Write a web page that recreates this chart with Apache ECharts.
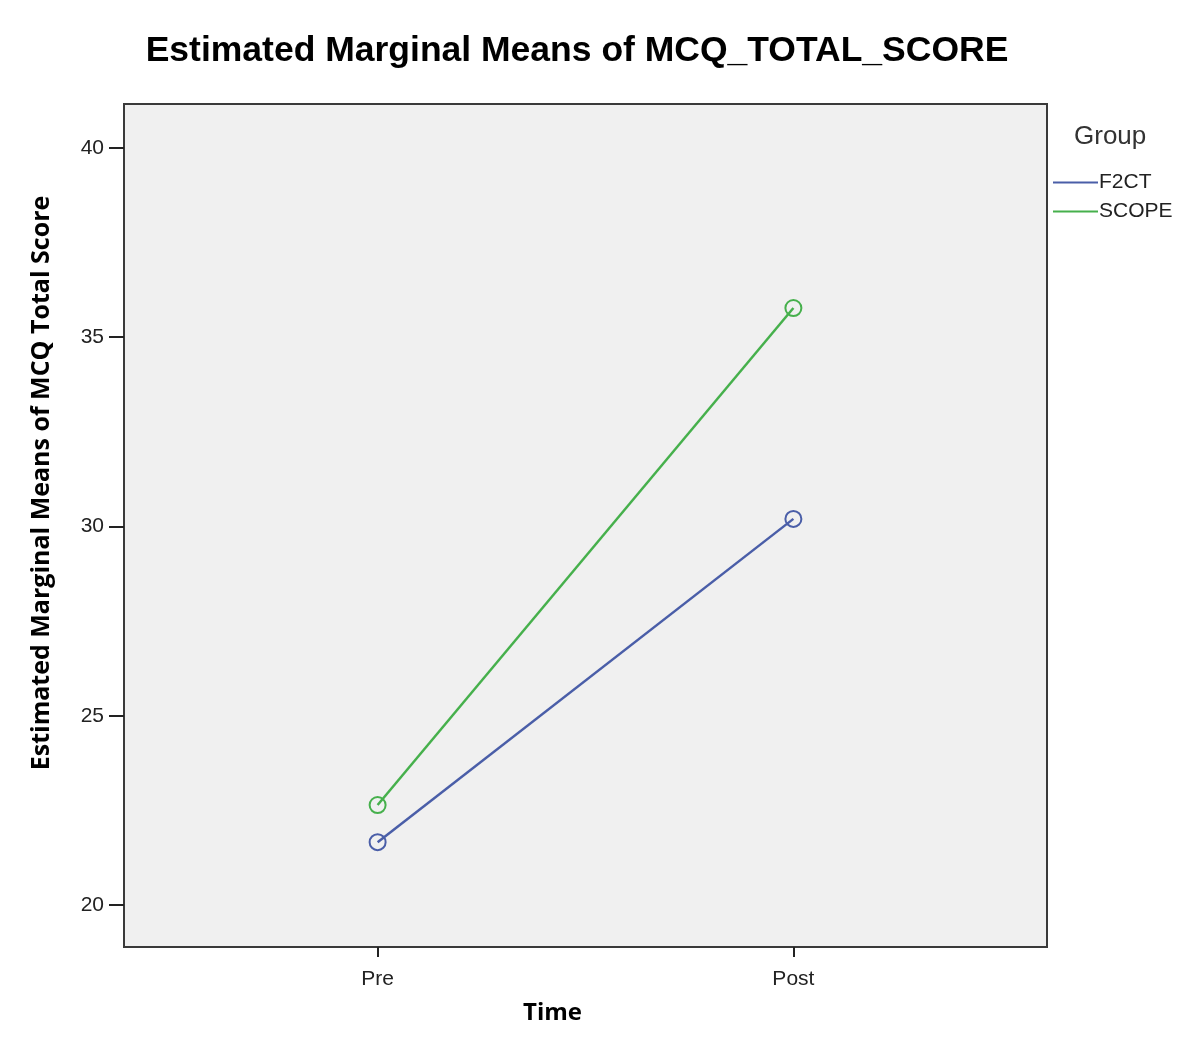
<!DOCTYPE html>
<html>
<head>
<meta charset="utf-8">
<script src="https://cdn.jsdelivr.net/npm/echarts@6/dist/echarts.min.js"></script>
<style>
  html, body { margin: 0; padding: 0; background: #fff; }
  #main { width: 1200px; height: 1051px; }
</style>
</head>
<body>
<div id="main"></div>
<script>
// data
const timePoints = ['Pre', 'Post'];
const groups = ['F2CT', 'SCOPE'];
const f2ctMeans = [21.66, 30.20];
const scopeMeans = [22.64, 35.77];
const yTicks = [20, 25, 30, 35, 40];

const colors = ['#4a5ea8', '#46b04c'];

const myChart = echarts.init(document.getElementById('main'));

// x axis is numeric (1 = Pre, 2 = Post) so the points sit where SPSS puts them
const toPoints = vals => vals.map((v, i) => [i + 1, v]);

const makeSeries = (name, vals, color) => ({
  name: name,
  type: 'line',
  data: toPoints(vals),
  symbol: 'circle',
  symbolSize: 16,
  color: color,
  lineStyle: { width: 2.5, color: color },
  itemStyle: { color: 'rgba(0,0,0,0)', borderColor: color, borderWidth: 2 }
});

const option = {
  backgroundColor: '#fff',
  animation: false,
  title: {
    text: 'Estimated Marginal Means of MCQ_TOTAL_SCORE',
    left: 572,
    top: 28,
    textAlign: 'center',
    textStyle: { fontFamily: 'Liberation Sans', fontWeight: 'bold', fontSize: 35.5, color: '#000' }
  },
  legend: {
    orient: 'vertical',
    left: 1048,
    top: 167,
    itemGap: 8,
    itemWidth: 45,
    itemHeight: 2,
    icon: 'rect',
    data: groups.map((g, i) => ({ name: g, itemStyle: { color: colors[i], borderWidth: 0 } })),
    textStyle: { fontFamily: 'Liberation Sans', fontSize: 21, color: '#222', padding: [0, 0, 0, -4] }
  },
  grid: {
    left: 124, top: 104, right: 153, bottom: 104,
    show: true,
    backgroundColor: '#f0f0f0',
    borderColor: '#3a3a3a',
    borderWidth: 2
  },
  xAxis: {
    type: 'value',
    min: 0.39,
    max: 2.61,
    splitLine: { show: false },
    axisLine: { show: true, lineStyle: { color: '#3a3a3a', width: 2 } },
    axisTick: { show: true, length: 10, customValues: [1, 2], lineStyle: { color: '#222', width: 2 } },
    axisLabel: {
      customValues: [1, 2],
      formatter: v => timePoints[Math.round(v) - 1],
      fontFamily: 'Liberation Sans', fontSize: 21, color: '#222', margin: 22
    },
    name: 'Time',
    nameLocation: 'middle',
    nameGap: 54,
    nameTextStyle: { fontFamily: 'Open Sans', fontWeight: 'bold', fontSize: 24, color: '#000', padding: [0, 66, 0, 0] }
  },
  yAxis: {
    type: 'value',
    min: 18.89,
    max: 41.16,
    splitLine: { show: false },
    axisLine: { show: true, lineStyle: { color: '#3a3a3a', width: 2 } },
    axisTick: { show: true, length: 15, customValues: yTicks, lineStyle: { color: '#222', width: 2 } },
    axisLabel: {
      customValues: yTicks,
      fontFamily: 'Liberation Sans', fontSize: 21, color: '#222', margin: 20
    }
  },
  graphic: [
    {
      type: 'text',
      x: 42, y: 483,
      rotation: Math.PI / 2,
      style: {
        text: 'Estimated Marginal Means of MCQ Total Score',
        font: 'bold 25px "Open Sans"',
        fill: '#000',
        textAlign: 'center',
        textVerticalAlign: 'middle'
      }
    },
    {
      type: 'text',
      x: 1074, y: 124,
      style: {
        text: 'Group',
        font: '26px "Liberation Sans"',
        fill: '#333'
      }
    }
  ],
  series: [
    makeSeries(groups[0], f2ctMeans, colors[0]),
    makeSeries(groups[1], scopeMeans, colors[1])
  ]
};

myChart.setOption(option, true);
window.addEventListener('resize', function () {
  myChart.resize();
});
</script>
</body>
</html>
